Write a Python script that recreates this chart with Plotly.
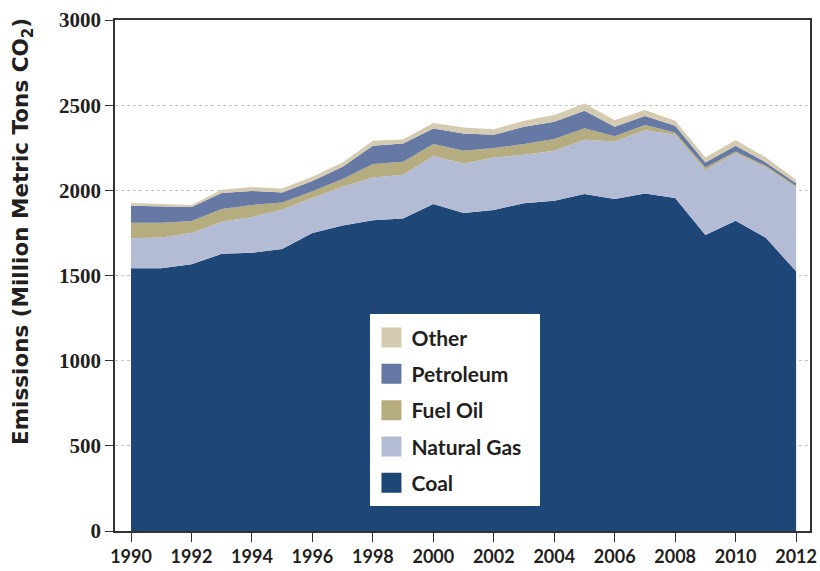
import plotly.graph_objects as go

years = list(range(1990, 2013))
coal = [1543, 1543, 1566, 1627, 1633, 1656, 1750, 1793, 1824, 1834, 1920, 1867,
        1885, 1924, 1939, 1978, 1949, 1982, 1955, 1738, 1822, 1721, 1525]
natural_gas = [176, 180, 184, 189, 211, 231, 205, 228, 252, 258, 281, 291,
               308, 285, 293, 319, 338, 372, 371, 381, 395, 413, 492]
fuel_oil = [90, 86, 70, 75, 70, 42, 40, 46, 78, 76, 71, 74,
            55, 63, 69, 68, 31, 29, 14, 15, 11, 10, 8]
petroleum = [101, 97, 82, 93, 82, 59, 60, 72, 108, 107, 91, 102,
             78, 101, 101, 102, 55, 54, 39, 30, 34, 20, 16]
other = [16, 12, 12, 20, 23, 23, 25, 25, 29, 24, 33, 35,
         33, 35, 41, 43, 39, 35, 29, 29, 33, 29, 21]

series = [
    ("Coal", coal, "#1e4677"),
    ("Natural Gas", natural_gas, "#b4bcd5"),
    ("Fuel Oil", fuel_oil, "#b5ad7f"),
    ("Petroleum", petroleum, "#6679a4"),
    ("Other", other, "#d5cbb0"),
]

fig = go.Figure()
for name, vals, col in series:
    fig.add_trace(go.Scatter(
        x=years, y=vals, name=name, mode="lines", stackgroup="one",
        line=dict(width=0, color=col), fillcolor=col, showlegend=False,
        hoverinfo="x+y+name"))

# legend entries (top to bottom: Other ... Coal)
for name, vals, col in reversed(series):
    fig.add_trace(go.Scatter(
        x=[None], y=[None], name=name, mode="markers", legendgroup=name,
        marker=dict(symbol="square", size=16, color=col,
                    line=dict(width=4, color=col)),
        showlegend=True))

text_col = "#231f20"
fig.update_layout(
    width=820, height=571,
    margin=dict(l=115, r=10, t=20, b=40, autoexpand=False),
    plot_bgcolor="white", paper_bgcolor="white",
    showlegend=True,
    legend=dict(
        x=0.369, y=0.418, xanchor="left", yanchor="top",
        bgcolor="rgba(0,0,0,0)", borderwidth=0,
        traceorder="grouped", tracegroupgap=6,
        font=dict(family="Lato", size=21, color=text_col, weight="bold"),
    ),
    shapes=[dict(type="rect", xref="paper", yref="paper",
                 x0=(370 - 115) / 695, x1=(540 - 115) / 695,
                 y0=(531 - 506) / 511, y1=(531 - 314) / 511,
                 fillcolor="white", line=dict(width=0), layer="above")],
    annotations=[dict(
        text="<b>Emissions (Million Metric Tons CO<sub>2</sub>)</b>",
        xref="paper", yref="paper", x=(22 - 115) / 695, y=(531 - 232) / 511,
        xanchor="center", yanchor="middle", textangle=-90, showarrow=False,
        font=dict(family="DejaVu Sans", size=21.5, color=text_col))],
)

fig.update_xaxes(
    range=[1989.47, 2012.46], tickmode="array", automargin=False,
    tickvals=list(range(1990, 2013, 2)),
    ticktext=["<b>%d</b>" % y for y in range(1990, 2013, 2)],
    ticks="outside", ticklen=9, tickcolor="#333333", tickwidth=1.2,
    showline=True, linecolor="#333333", linewidth=1.5, mirror=True,
    showgrid=False, zeroline=False,
    tickfont=dict(family="Lato", size=18, color=text_col),
)
fig.update_yaxes(
    range=[0, 3000], tickmode="array", automargin=False,
    tickvals=list(range(0, 3001, 500)),
    ticktext=["<b>%d</b>" % v for v in range(0, 3001, 500)],
    ticks="outside", ticklen=8, tickcolor="#333333", tickwidth=1.2,
    showline=True, linecolor="#333333", linewidth=1.5, mirror=True,
    showgrid=True, gridcolor="#c8c8c8", griddash="dot", gridwidth=1,
    zeroline=False,
    tickfont=dict(family="Liberation Serif", size=21, color=text_col),
)

fig.write_html("out.html",
               config={"displayModeBar": False},
               post_script="document.body.style.margin='0';"
                           "document.body.style.overflow='hidden';")
